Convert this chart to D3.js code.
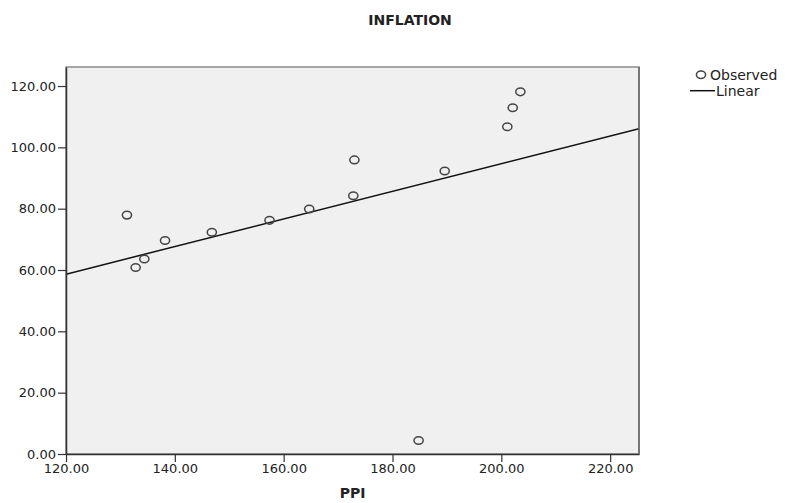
<!DOCTYPE html>
<html>
<head>
<meta charset="utf-8">
<script src="https://cdn.jsdelivr.net/npm/d3@7"></script>
<style>
  body { margin: 0; background: #fff; }
  text { font-family: "DejaVu Sans", sans-serif; fill: #222; }
</style>
</head>
<body>
<script>
var ppi = [131.2, 132.8, 134.4, 138.2, 146.8, 157.4, 164.7, 172.8, 173.0, 189.6, 201.1, 202.1, 203.5, 184.8];
var inflation = [77.9, 60.8, 63.6, 69.6, 72.3, 76.2, 79.9, 84.2, 95.9, 92.3, 106.7, 112.9, 118.1, 4.4];
var xTicks = [120, 140, 160, 180, 200, 220];
var yTicks = [0, 20, 40, 60, 80, 100, 120];

var W = 787, H = 503;
var pLeft = 66, pRight = 639, pTop = 67, pBottom = 454;

var svg = d3.select('body').append('svg')
    .attr('width', W)
    .attr('height', H);

var x = d3.scaleLinear().domain([120, 225.3]).range([pLeft, pRight]);
var y = d3.scaleLinear().domain([0, 126.2]).range([pBottom, pTop]);

// plot background
svg.append('rect')
    .attr('x', pLeft)
    .attr('y', pTop)
    .attr('width', pRight - pLeft)
    .attr('height', pBottom - pTop)
    .attr('fill', '#f0f0f0')
    .attr('stroke', '#8a8a8a')
    .attr('stroke-width', 1.5);

svg.append('clipPath').attr('id', 'clip')
  .append('rect')
    .attr('x', pLeft).attr('y', pTop)
    .attr('width', pRight - pLeft).attr('height', pBottom - pTop);

// linear fit
var n = ppi.length;
var mx = d3.mean(ppi), my = d3.mean(inflation);
var sxy = 0, sxx = 0;
for (var i = 0; i < n; i++) {
    sxy += (ppi[i] - mx) * (inflation[i] - my);
    sxx += (ppi[i] - mx) * (ppi[i] - mx);
}
var slope = sxy / sxx;
var icpt = my - slope * mx;
var xd = x.domain();

svg.append('line')
    .attr('clip-path', 'url(#clip)')
    .attr('x1', x(xd[0]))
    .attr('y1', y(icpt + slope * xd[0]))
    .attr('x2', x(xd[1]))
    .attr('y2', y(icpt + slope * xd[1]))
    .attr('stroke', '#111')
    .attr('stroke-width', 1.5);

// points
svg.selectAll('.pt')
    .data(ppi)
  .enter().append('ellipse')
    .attr('class', 'pt')
    .attr('cx', function(d) { return x(d); })
    .attr('cy', function(d, i) { return y(inflation[i]); })
    .attr('rx', 4.6)
    .attr('ry', 3.8)
    .attr('fill', 'none')
    .attr('stroke', '#444')
    .attr('stroke-width', 1.5);

// axes
var xAxis = d3.axisBottom(x).tickValues(xTicks).tickSize(8).tickSizeOuter(0)
    .tickFormat(d3.format('.2f'));
var yAxis = d3.axisLeft(y).tickValues(yTicks).tickSize(8).tickSizeOuter(0)
    .tickFormat(d3.format('.2f'));

var gx = svg.append('g')
    .attr('transform', 'translate(0,' + pBottom + ')')
    .call(xAxis);
var gy = svg.append('g')
    .attr('transform', 'translate(' + pLeft + ',0)')
    .call(yAxis);

[gx, gy].forEach(function(g) {
    g.select('.domain').attr('stroke', '#333').attr('stroke-width', 1.5);
    g.selectAll('.tick line').attr('stroke', '#333').attr('stroke-width', 1.2);
    g.selectAll('.tick text')
        .style('font-family', '"DejaVu Sans", sans-serif')
        .style('font-size', '13px')
        .attr('fill', '#222');
});
gx.selectAll('.tick text').attr('y', 10);
gy.selectAll('.tick text').attr('x', -10);

// right border
svg.append('line')
    .attr('x1', pRight).attr('x2', pRight)
    .attr('y1', pTop).attr('y2', pBottom)
    .attr('stroke', '#666')
    .attr('stroke-width', 1.5);

// titles
svg.append('text')
    .attr('x', 410)
    .attr('y', 25)
    .attr('text-anchor', 'middle')
    .style('font-size', '14px')
    .style('font-weight', 'bold')
    .text('INFLATION');

svg.append('text')
    .attr('x', (pLeft + pRight) / 2)
    .attr('y', 498)
    .attr('text-anchor', 'middle')
    .style('font-size', '14px')
    .style('font-weight', 'bold')
    .text('PPI');

// legend
svg.append('ellipse')
    .attr('cx', 701).attr('cy', 74.7)
    .attr('rx', 4.6).attr('ry', 3.8)
    .attr('fill', 'none')
    .attr('stroke', '#444')
    .attr('stroke-width', 1.5);
svg.append('text')
    .attr('x', 710).attr('y', 79.5)
    .style('font-size', '14px')
    .text('Observed');
svg.append('line')
    .attr('x1', 690).attr('x2', 715)
    .attr('y1', 90.7).attr('y2', 90.7)
    .attr('stroke', '#111')
    .attr('stroke-width', 1.5);
svg.append('text')
    .attr('x', 716).attr('y', 95.5)
    .style('font-size', '14px')
    .text('Linear');
</script>
</body>
</html>
